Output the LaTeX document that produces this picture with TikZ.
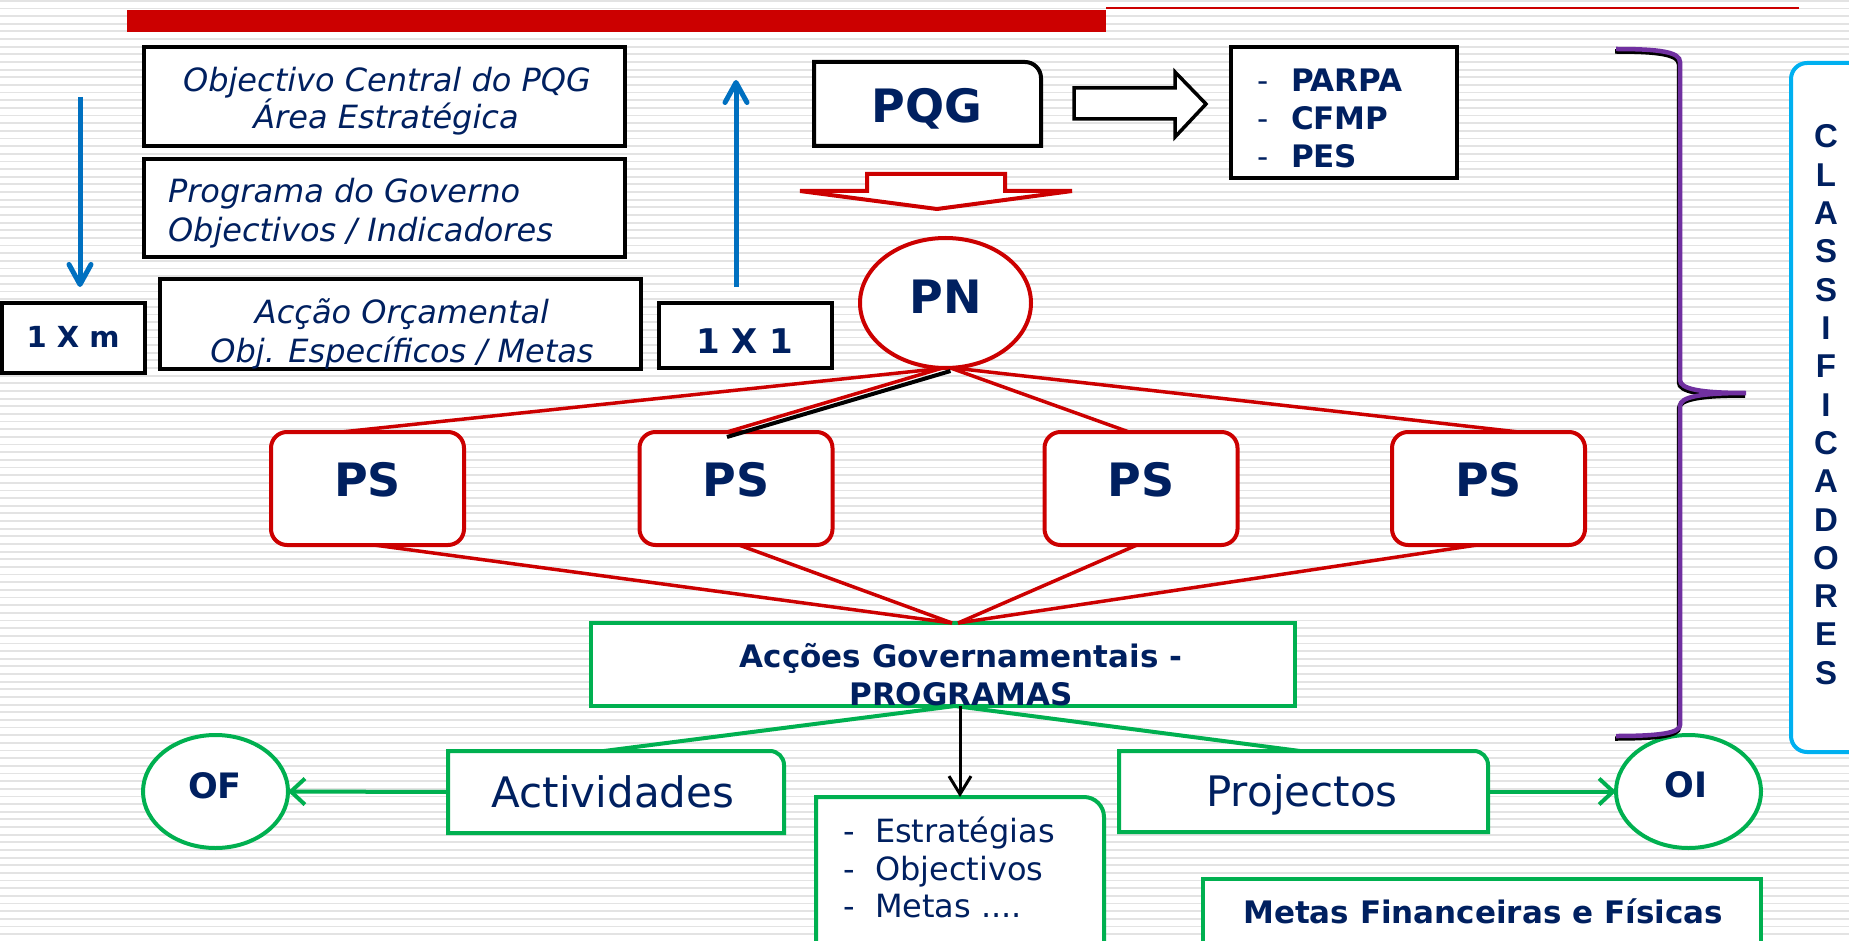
\documentclass[tikz,border=0pt]{standalone}
\usepackage{fontspec}
\setmainfont{DejaVu Sans}
\newfontfamily\arialf{Liberation Sans}
\usetikzlibrary{arrows.meta,calc,shapes.geometric}
\definecolor{navy}{HTML}{002060}
\definecolor{redc}{HTML}{CC0000}
\definecolor{grn}{HTML}{00B050}
\definecolor{bluec}{HTML}{0070C0}
\definecolor{purp}{HTML}{7030A0}
\definecolor{cyanc}{HTML}{00B0F0}
\definecolor{stripec}{gray}{0.89}
\newcommand{\fsz}[2]{\fontsize{#1}{#2}\selectfont}
\newcommand{\trboxpath}[3]{%
  \draw[#3] (#1.south west) -- (#1.north west) -- ($(#1.north east)+(-#2,0)$)
    .. controls ($(#1.north east)+(-0.45*#2,0)$) and ($(#1.north east)+(0,0.45*#2)$) ..
    ($(#1.north east)+(0,#2)$) -- (#1.south east) -- cycle;}
\newcommand{\bracepath}{(1616,49) .. controls (1660,49) and (1680,52) .. (1680,62) -- (1680,380)
  .. controls (1680,389) and (1700,393) .. (1746,393)
  .. controls (1700,393) and (1680,397) .. (1680,406) -- (1680,725)
  .. controls (1680,733) and (1660,736) .. (1616,736)}
\begin{document}
\begin{tikzpicture}[x=1pt,y=-1pt,
  blk/.style={draw=black,line width=4pt,fill=white,inner sep=0pt,outer sep=0pt},
  redbox/.style={draw=redc,line width=4pt,fill=white,rounded corners=16pt,inner sep=0pt,outer sep=0pt},
  grnbox/.style={draw=grn,line width=4pt,fill=white,inner sep=0pt,outer sep=0pt},
  plain/.style={draw=none,fill=none,inner sep=0pt,outer sep=0pt},
  txt/.style={text=navy,inner sep=0pt,outer sep=0pt,anchor=base},
  itl/.style={txt,font=\fsz{32}{38}\itshape},
  redln/.style={draw=redc,line width=3.5pt},
  grnln/.style={draw=grn,line width=4pt},
  bluearr/.style={draw=bluec,line width=5pt,-{Straight Barb[length=20pt,width=22pt,round]}},
  stripe/.style={draw=stripec,line width=1.8pt}]
\useasboundingbox (0,0) rectangle (1849,941);
\clip (0,0) rectangle (1849,941);
\fill[white] (0,0) rectangle (1849,941);
\foreach \i in {0,...,123} \draw[stripe] (0,{\i*7.65+0.8}) -- (1849,{\i*7.65+0.8});
% top bar
\fill[redc] (127,10) rectangle (1106,32);
\draw[redc,line width=2pt] (1106,8.5) -- (1799,8.5);
% left boxes
\node[blk,minimum width=481,minimum height=99] (ocp) at (384.5,96.5) {};
\node[itl] (ocp1) at (387,92) {Objectivo Central do PQG};
\node[itl] (ocp2) at (386,129) {Área Estratégica};
\node[blk,minimum width=481,minimum height=98] (pg) at (384.5,208) {};
\node[itl,anchor=base west] (pg1) at (168,203) {Programa do Governo};
\node[itl,anchor=base west] (pg2) at (168,242) {Objectivos / Indicadores};
\node[blk,minimum width=481,minimum height=90] (ao) at (400.5,324) {};
\node[itl] (ao1) at (402,323) {Acção Orçamental};
\node[itl] (ao2) at (402,362) {Obj. Específicos / Metas};
\node[blk,minimum width=143,minimum height=70] (xm) at (73.5,338) {};
\node[txt,font=\fsz{29}{34}\bfseries] (xmt) at (73,347) {1 X m};
\node[blk,minimum width=173,minimum height=65] (xo) at (745.5,335.5) {};
\node[txt,font=\fsz{34}{40}\bfseries] (xot) at (745,353) {1 X 1};
% blue arrows
\coordinate (bd1) at (80,97); \coordinate (bd2) at (80,287);
\coordinate (bu1) at (736,287); \coordinate (bu2) at (736,80);
\draw[bluearr] (bd1) -- (bd2);
\draw[bluearr] (bu1) -- (bu2);
% PQG
\node[plain,minimum width=227,minimum height=84] (pqg) at (927.5,104) {};
\trboxpath{pqg}{16}{draw=black,line width=4pt,fill=white}
\node[txt,font=\fsz{46}{54}\bfseries] (pqgt) at (927,123) {PQG};
% hollow right arrow
\draw[black,line width=3.5pt,fill=white,line join=miter] (1074,88) -- (1175,88) -- (1175,72) -- (1206,104) -- (1175,137) -- (1175,119) -- (1074,119) -- cycle;
% PARPA box
\node[blk,minimum width=226,minimum height=131] (parpa) at (1344,112.5) {};
\node[txt,anchor=base west,font=\fsz{31}{38}\bfseries] (pa1) at (1257,92) {\makebox[34pt][l]{\mdseries-}PARPA};
\node[txt,anchor=base west,font=\fsz{31}{38}\bfseries] (pa2) at (1257,130) {\makebox[34pt][l]{\mdseries-}CFMP};
\node[txt,anchor=base west,font=\fsz{31}{38}\bfseries] (pa3) at (1257,168) {\makebox[34pt][l]{\mdseries-}PES};
% red hollow down arrow
\draw[redc,line width=4pt,fill=white,line join=miter] (867,174) -- (1005,174) -- (1005,191) -- (1072,191) -- (937,209) -- (800,191) -- (867,191) -- cycle;
% PN
\node[ellipse,draw=redc,line width=4pt,fill=white,inner sep=0pt,outer sep=0pt,minimum width=171,minimum height=130] (pn) at (945.5,303) {};
\node[txt,font=\fsz{46}{54}\bfseries] (pnt) at (946,313) {PN};
% PS boxes
\node[redbox,minimum width=193,minimum height=113] (ps1) at (367.5,488.5) {};
\node[redbox,minimum width=193,minimum height=113] (ps2) at (736,488.5) {};
\node[redbox,minimum width=193,minimum height=113] (ps3) at (1141,488.5) {};
\node[redbox,minimum width=193,minimum height=113] (ps4) at (1488.5,488.5) {};
\foreach \k in {1,2,3,4} \node[txt,font=\fsz{46}{54}\bfseries] (pst\k) at ($(ps\k.center)+(0,7.5)$) {PS};
% Accoes
\node[grnbox,minimum width=704,minimum height=83] (acg) at (943,664.5) {};
\node[txt,font=\fsz{31}{38}\bfseries] (acg1) at (961,667) {Acções Governamentais -};
\node[txt,font=\fsz{31}{38}\bfseries] (acg2) at (961,705) {PROGRAMAS};
% red connectors
\draw[redln] ($(pn.south)+(0,0)$) -- ($(ps1.north)+(-26,0)$);
\draw[black,line width=4pt] ($(pn.south)+(5,3)$) -- ($(ps2.north)+(-9,5)$);
\draw[redln] ($(pn.south)+(-3,0)$) -- ($(ps2.north)+(-9,0)$);
\draw[redln] ($(pn.south)+(5,0)$) -- ($(ps3.north)+(-12,0)$);
\draw[redln] ($(pn.south)+(8,0)$) -- ($(ps4.north)+(30,0)$);
\draw[redln] ($(ps1.south)+(6.5,0)$) -- ($(acg.north)+(9,0)$);
\draw[redln] ($(ps2.south)+(3,0)$) -- ($(acg.north)+(9,0)$);
\draw[redln] ($(ps3.south)+(-4,0)$) -- ($(acg.north)+(15,0)$);
\draw[redln] ($(ps4.south)+(-11.5,0)$) -- ($(acg.north)+(15,0)$);
% lower boxes
\node[plain,minimum width=336,minimum height=82] (act) at (616,792) {};
\trboxpath{act}{14}{draw=grn,line width=4pt,fill=white}
\node[txt,font=\fsz{42}{50}] (actt) at (613,807) {Actividades};
\node[plain,minimum width=369,minimum height=81] (proj) at (1303.5,791.5) {};
\trboxpath{proj}{14}{draw=grn,line width=4pt,fill=white}
\node[txt,font=\fsz{42}{50}] (projt) at (1302,806) {Projectos};
\node[plain,minimum width=288,minimum height=166] (estr) at (960,880) {};
\trboxpath{estr}{20}{draw=grn,line width=4pt,fill=white}
\node[txt,anchor=base west,font=\fsz{32}{38}] (es1) at (843,842) {\makebox[32pt][l]{-}Estratégias};
\node[txt,anchor=base west,font=\fsz{32}{38}] (es2) at (843,880) {\makebox[32pt][l]{-}Objectivos};
\node[txt,anchor=base west,font=\fsz{32}{38}] (es3) at (843,917) {\makebox[32pt][l]{-}Metas ....};
\node[ellipse,draw=grn,line width=4pt,fill=white,inner sep=0pt,outer sep=0pt,minimum width=145,minimum height=113] (of) at (215.5,791.5) {};
\node[txt,font=\fsz{35}{42}\bfseries] (oft) at (215,798) {OF};
\node[ellipse,draw=grn,line width=4pt,fill=white,inner sep=0pt,outer sep=0pt,minimum width=145,minimum height=113] (oi) at (1688.5,791.5) {};
\node[txt,font=\fsz{35}{42}\bfseries] (oit) at (1686,797) {OI};
\node[grnbox,minimum width=558,minimum height=82] (mfin) at (1482,920) {};
\node[txt,font=\fsz{31}{38}\bfseries] (mfint) at (1483,923) {Metas Financeiras e Físicas};
% green connectors
\draw[grnln] ($(acg.south)+(12,0)$) -- ($(act.north)+(-12,0)$);
\draw[grnln] ($(acg.south)+(12,0)$) -- ($(proj.north)+(-3.5,0)$);
\draw[grnln,-{Straight Barb[length=14pt,width=26pt]}] (act.west) -- (of.east);
\draw[grnln,-{Straight Barb[length=14pt,width=26pt]}] (proj.east) -- (oi.west);
\draw[black,line width=3pt,-{Straight Barb[length=18pt,width=22pt]}] ($(acg.south)+(17,0)$) -- (estr.north);
% brace
\draw[black,line width=4.5pt,shift={(-1,2.5)}] \bracepath;
\draw[purp,line width=4.5pt] \bracepath;
% classificadores
\node[draw=cyanc,line width=4pt,fill=white,rounded corners=16pt,inner sep=0pt,outer sep=0pt,minimum width=90,minimum height=689] (cls) at (1836,407.5) {};
\foreach \L [count=\k] in {C,L,A,S,S,I,F,I,C,A,D,O,R,E,S}
  \node[txt,font=\arialf\fsz{33}{38}\bfseries] (cl\k) at (1826,{148+(\k-1)*38.3}) {\L};
\end{tikzpicture}
\end{document}
